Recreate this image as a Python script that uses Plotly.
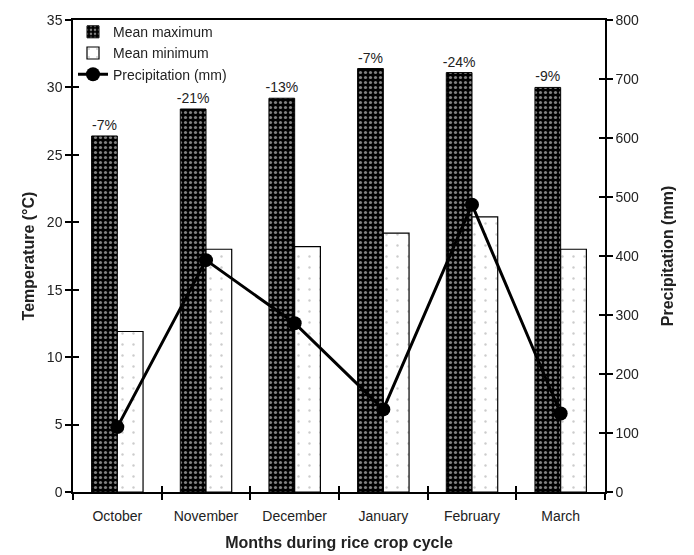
import plotly.graph_objects as go

# Monthly climate over the rice crop cycle
months = ["October", "November", "December", "January", "February", "March"]
mean_max = [26.4, 28.4, 29.2, 31.4, 31.1, 30.0]
mean_min = [11.9, 18.0, 18.2, 19.2, 20.4, 18.0]
precip = [110, 393, 286, 140, 487, 133]
change_labels = ["-7%", "-21%", "-13%", "-7%", "-24%", "-9%"]

FONT = "Liberation Sans, Arial, sans-serif"
TXT = "#222"
cat_range = [-0.5, len(months) - 0.5]

fig = go.Figure()

fig.add_trace(go.Bar(
    x=months, y=mean_max, name="Mean maximum",
    marker=dict(color="black", line=dict(color="black", width=1),
                pattern=dict(shape=".", fgcolor="white", size=5, solidity=0.32)),
    text=change_labels, textposition="outside", constraintext="none",
    outsidetextfont=dict(family=FONT, size=14, color=TXT),
    textfont=dict(family=FONT, size=14, color=TXT),
    cliponaxis=False,
))
fig.add_trace(go.Bar(
    x=months, y=mean_min, name="Mean minimum",
    marker=dict(color="white", line=dict(color="black", width=1.2),
                pattern=dict(shape=".", fgcolor="#9a9a9a", size=11, solidity=0.04)),
))
fig.add_trace(go.Scatter(
    x=months, y=precip, name="Precipitation (mm)", yaxis="y2",
    mode="lines+markers",
    line=dict(color="black", width=3),
    marker=dict(color="black", size=14),
))

# invisible helpers that carry the inner half of the crossing tick marks
fig.add_trace(go.Scatter(x=months, y=mean_min, xaxis="x2", yaxis="y3",
                         mode="markers", opacity=0, showlegend=False,
                         hoverinfo="skip"))
fig.add_trace(go.Scatter(x=months, y=precip, xaxis="x2", yaxis="y4",
                         mode="markers", opacity=0, showlegend=False,
                         hoverinfo="skip"))

axis_line = dict(showline=True, linecolor="black", linewidth=1.5,
                 showgrid=False, zeroline=False)
title_font = dict(family=FONT, size=16, color=TXT)

fig.update_layout(
    width=694, height=555,
    margin=dict(l=73, r=89, t=16, b=63),
    paper_bgcolor="white", plot_bgcolor="white",
    font=dict(family=FONT, size=14, color=TXT),
    barmode="group", bargap=0.42, bargroupgap=0,
    showlegend=True,
    legend=dict(x=0.0, y=1.008, xanchor="left", yanchor="top",
                bgcolor="rgba(0,0,0,0)", font=dict(family=FONT, size=14, color=TXT),
                tracegroupgap=0, itemwidth=30),
    xaxis=dict(**axis_line, type="category", range=cat_range, automargin=False,
               tickson="boundaries", ticks="outside", ticklen=6, tickwidth=1.5,
               tickcolor="black", mirror=True, ticklabelstandoff=10,
               title=dict(text="<b>Months during rice crop cycle</b>",
                          font=title_font, standoff=14)),
    xaxis2=dict(type="category", range=cat_range, overlaying="x",
                tickson="boundaries", ticks="inside", ticklen=6, tickwidth=1.5,
                tickcolor="black", showticklabels=False, showline=False,
                showgrid=False, zeroline=False),
    yaxis=dict(**axis_line, range=[0, 35], dtick=5, ticks="outside", ticklen=6,
               tickwidth=1.5, tickcolor="black",
               title=dict(text="<b>Temperature (°C)</b>", font=title_font, standoff=8)),
    yaxis2=dict(**axis_line, range=[0, 800], dtick=100, overlaying="y", side="right",
                ticks="outside", ticklen=6, tickwidth=1.5, tickcolor="black",
                title=dict(text="<b>Precipitation (mm)</b>", font=title_font, standoff=24)),
    yaxis3=dict(range=[0, 35], dtick=5, overlaying="y", side="left",
                ticks="inside", ticklen=6, tickwidth=1.5, tickcolor="black",
                showticklabels=False, showline=False, showgrid=False, zeroline=False),
    yaxis4=dict(range=[0, 800], dtick=100, overlaying="y", side="right",
                ticks="inside", ticklen=6, tickwidth=1.5, tickcolor="black",
                showticklabels=False, showline=False, showgrid=False, zeroline=False),
)

fig.write_html("out.html")
